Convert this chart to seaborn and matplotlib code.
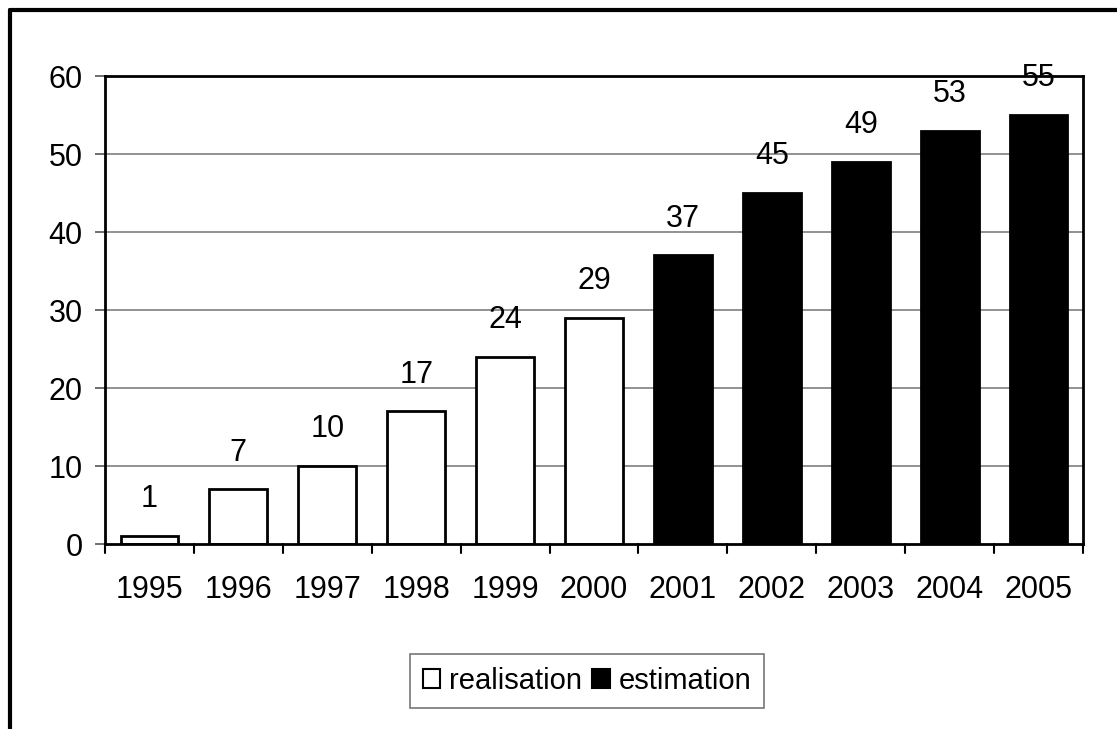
import matplotlib
matplotlib.use("Agg")
import matplotlib.pyplot as plt
import seaborn as sns
import pandas as pd
from matplotlib.patches import Patch
from matplotlib.lines import Line2D

years = ["1995", "1996", "1997", "1998", "1999", "2000",
         "2001", "2002", "2003", "2004", "2005"]
values = [1, 7, 10, 17, 24, 29, 37, 45, 49, 53, 55]
kinds = ["realisation"] * 6 + ["estimation"] * 5

df = pd.DataFrame({"year": years, "value": values, "kind": kinds})

sns.set_theme(style="white")
plt.rcParams["font.family"] = ["Liberation Sans", "DejaVu Sans"]
plt.rcParams["text.color"] = "black"
plt.rcParams["xtick.color"] = "black"
plt.rcParams["ytick.color"] = "black"
plt.rcParams["axes.labelcolor"] = "black"

fig = plt.figure(figsize=(11.17, 7.29), dpi=100)
ax = fig.add_axes([105 / 1117, 1 - 544 / 729, (1083 - 105) / 1117, (544 - 76) / 729])

sns.barplot(data=df, x="year", y="value", hue="kind",
            palette={"realisation": "white", "estimation": "black"},
            dodge=False, width=0.65, edgecolor="black", linewidth=2,
            legend=False, ax=ax)

ax.set_xlim(-0.5, len(years) - 0.5)
ax.set_ylim(0, 60)
ax.set_yticks(range(0, 61, 10))
ax.set_xlabel("")
ax.set_ylabel("")

# horizontal gridlines
for yv in range(10, 60, 10):
    ax.axhline(yv, color="#7f7f7f", linewidth=1.2, zorder=0)

for s in ax.spines.values():
    s.set_visible(True)
    s.set_color("black")
    s.set_linewidth(2)

# category boundary ticks below x axis
ax.set_xticks(range(len(years)))
ax.set_xticklabels(years, fontsize=22)
ax.tick_params(axis="x", length=0, pad=22)
for b in range(len(years) + 1):
    ax.add_line(Line2D([b - 0.5, b - 0.5], [0, -1.1], color="black",
                       linewidth=1.5, clip_on=False))
ax.tick_params(axis="y", labelsize=22, length=7, width=1.2, color="#555555",
               direction="out", left=True, pad=9)

for i, v in enumerate(values):
    ax.text(i, v + 2.8, str(v), ha="center", va="bottom", fontsize=22,
            clip_on=False)

handles = [Patch(facecolor="white", edgecolor="black", linewidth=1.5, label="realisation"),
           Patch(facecolor="black", edgecolor="black", linewidth=1.5, label="estimation")]
leg = fig.legend(handles=handles, loc="center", bbox_to_anchor=(587 / 1117, 1 - 681 / 729),
                 ncol=2, fontsize=21, frameon=True, fancybox=False,
                 handlelength=0.6, handleheight=0.6, handletextpad=0.3,
                 columnspacing=0.35, borderpad=0.45, borderaxespad=0)
leg.get_frame().set_edgecolor("#555555")
leg.get_frame().set_linewidth(1.2)

# outer frame of the chart
fig.add_artist(Line2D([10 / 1117, 10 / 1117], [0, 1 - 10 / 729], color="black",
                      linewidth=3, transform=fig.transFigure))
fig.add_artist(Line2D([10 / 1117, 1], [1 - 10 / 729, 1 - 10 / 729], color="black",
                      linewidth=3, transform=fig.transFigure))

fig.savefig("out.png", dpi=100, facecolor="white")
